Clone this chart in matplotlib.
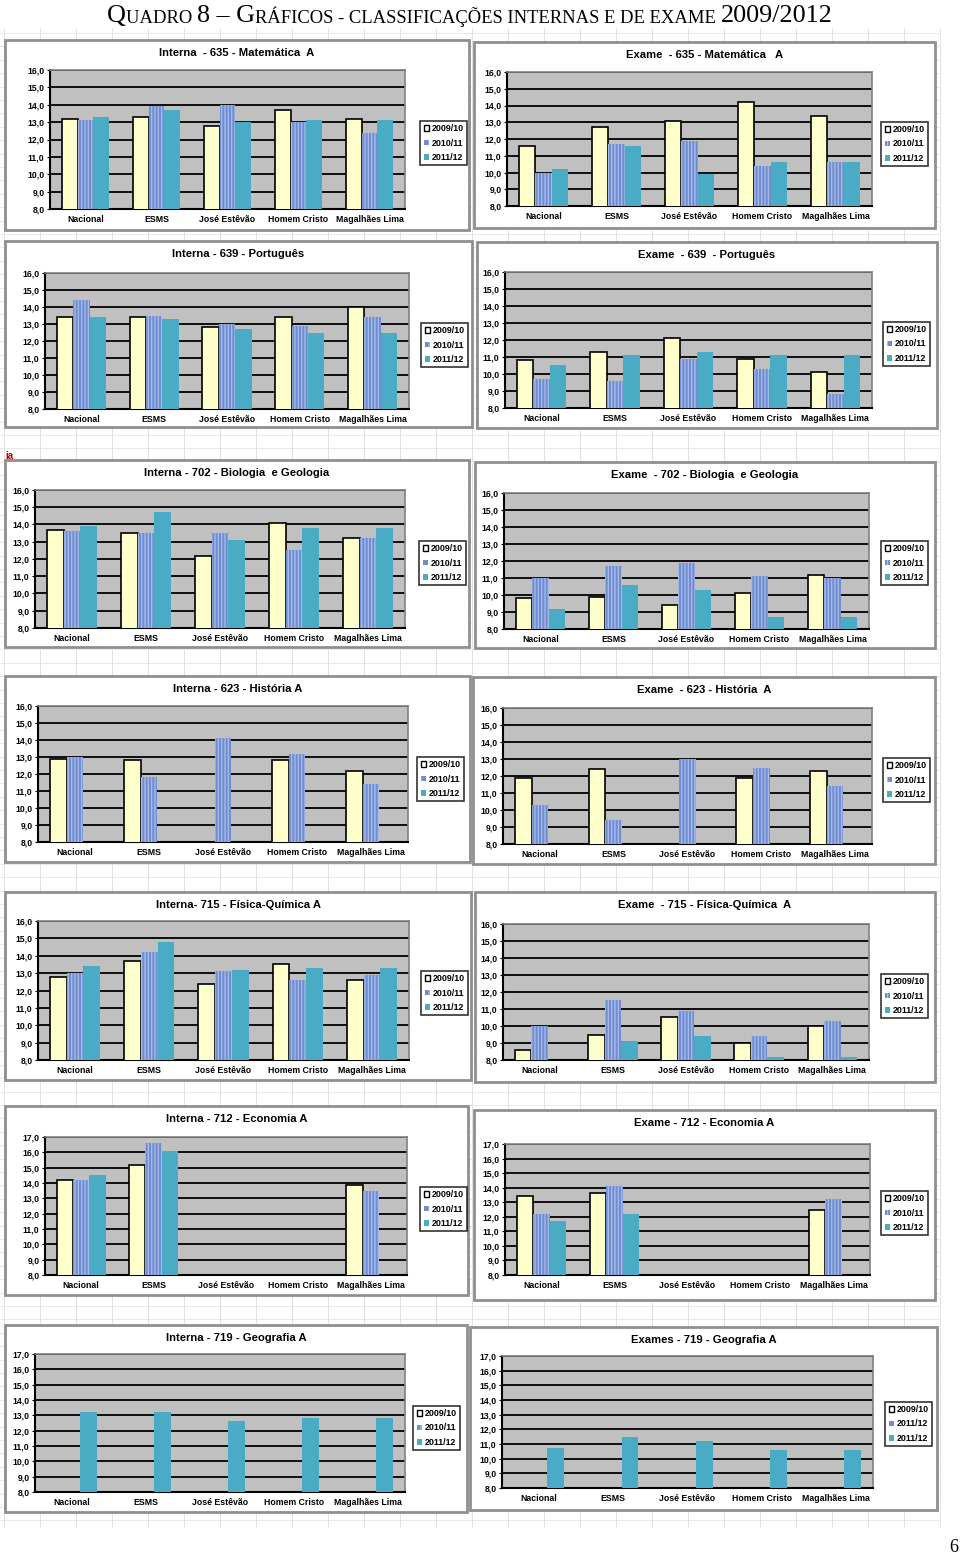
import numpy as np
import matplotlib
matplotlib.use("Agg")
import matplotlib.pyplot as plt
from matplotlib.patches import Rectangle, Patch

plt.rcParams["font.family"] = ["Liberation Sans", "DejaVu Sans"]
plt.rcParams["hatch.linewidth"] = 0.9

nan = np.nan
escolas = ["Nacional", "ESMS", "José Estêvão", "Homem Cristo", "Magalhães Lima"]
anos = ["2009/10", "2010/11", "2011/12"]

int635_0910 = [13.2, 13.3, 12.8, 13.7, 13.2]
int635_1011 = [13.1, 13.9, 14.0, 13.0, 12.4]
int635_1112 = [13.3, 13.7, 13.0, 13.1, 13.1]
exa635_0910 = [11.6, 12.7, 13.1, 14.2, 13.4]
exa635_1011 = [10.0, 11.7, 11.9, 10.4, 10.6]
exa635_1112 = [10.2, 11.6, 9.9, 10.6, 10.6]

int639_0910 = [13.4, 13.4, 12.8, 13.4, 14.0]
int639_1011 = [14.4, 13.5, 13.0, 12.9, 13.4]
int639_1112 = [13.4, 13.3, 12.7, 12.5, 12.5]
exa639_0910 = [10.8, 11.3, 12.1, 10.9, 10.1]
exa639_1011 = [9.7, 9.6, 10.9, 10.3, 8.8]
exa639_1112 = [10.5, 11.1, 11.3, 11.1, 11.1]

int702_0910 = [13.7, 13.5, 12.2, 14.1, 13.2]
int702_1011 = [13.6, 13.5, 13.5, 12.5, 13.2]
int702_1112 = [13.9, 14.7, 13.1, 13.8, 13.8]
exa702_0910 = [9.8, 9.9, 9.4, 10.1, 11.2]
exa702_1011 = [11.0, 11.7, 11.9, 11.1, 11.0]
exa702_1112 = [9.2, 10.6, 10.3, 8.7, 8.7]

int623_0910 = [12.9, 12.8, nan, 12.8, 12.2]
int623_1011 = [13.0, 11.8, 14.1, 13.2, 11.4]
int623_1112 = [nan, nan, nan, nan, nan]
exa623_0910 = [11.9, 12.4, nan, 11.9, 12.3]
exa623_1011 = [10.3, 9.4, 13.0, 12.5, 11.4]
exa623_1112 = [nan, nan, nan, nan, nan]

int715_0910 = [12.8, 13.7, 12.4, 13.5, 12.6]
int715_1011 = [13.0, 14.2, 13.1, 12.6, 12.9]
int715_1112 = [13.4, 14.8, 13.2, 13.3, 13.3]
exa715_0910 = [8.6, 9.5, 10.5, 9.0, 10.0]
exa715_1011 = [10.0, 11.5, 10.9, 9.4, 10.3]
exa715_1112 = [nan, 9.1, 9.4, 8.2, 8.2]

int712_0910 = [14.2, 15.2, nan, nan, 13.9]
int712_1011 = [14.2, 16.6, nan, nan, 13.5]
int712_1112 = [14.5, 16.1, nan, nan, nan]
exa712_0910 = [13.4, 13.6, nan, nan, 12.5]
exa712_1011 = [12.2, 14.1, nan, nan, 13.2]
exa712_1112 = [11.7, 12.2, nan, nan, nan]

int719_0910 = [nan, nan, nan, nan, nan]
int719_1011 = [nan, nan, nan, nan, nan]
int719_1112 = [13.2, 13.2, 12.6, 12.8, 12.8]
exa719_0910 = [nan, nan, nan, nan, nan]
exa719_1011 = [nan, nan, nan, nan, nan]
exa719_1112 = [10.7, 11.5, 11.2, 10.6, 10.6]

# ─── Figura ───────────────────────────────────────────────────────────────────
W, H = 960, 1554
fig = plt.figure(figsize=(W / 100, H / 100), dpi=100)
bg = fig.add_axes([0, 0, 1, 1], zorder=-10)
bg.set_xlim(0, W); bg.set_ylim(H, 0); bg.axis("off")

# grelha da folha de cálculo
for x in np.arange(4, 945, 36):
    bg.plot([x, x], [28, 1527], color="#dcdcdc", lw=0.6, zorder=0)
for y in np.arange(33, 1528, 13.4):
    bg.plot([0, 940], [y, y], color="#e4e4e4", lw=0.6, zorder=0)

# título em versaletes
big, small = 18.8, 13.4
pieces = [("Q", big), ("UADRO ", small), ("8 – G", big),
          ("RÁFICOS - CLASSIFICAÇÕES INTERNAS E DE EXAME ", small), ("2009/2012", big)]
t = bg.text(107, 22, pieces[0][0], fontsize=pieces[0][1], family="Liberation Serif",
            va="baseline", ha="left")
for txt, fs in pieces[1:]:
    t = bg.annotate(txt, xy=(1, 0), xycoords=t, va="bottom", ha="left",
                    fontsize=fs, family="Liberation Serif")

bg.text(5, 456, "ia", color="#c00000", fontsize=7, fontweight="bold", va="center")
bg.text(958, 1547, "6", fontsize=13, family="Liberation Serif", ha="right", va="center")

YELLOW, BLUE, HATCH, TEAL = "#ffffcc", "#6f8ed2", "#aabde8", "#4aabc5"


def chart(box, plot, leg, title, series, ymax=16, labels=anos):
    x0, y0, x1, y1 = box
    bg.add_patch(Rectangle((x0, y0), x1 - x0, y1 - y0, facecolor="white",
                           edgecolor="#8f8f8f", lw=2, zorder=1))
    bg.text((x0 + x1) / 2, y0 + 13, title, ha="center", va="center",
            fontsize=8.1, fontweight="bold", zorder=2)
    px0, py0, px1, py1 = plot
    ax = fig.add_axes([px0 / W, 1 - py1 / H, (px1 - px0) / W, (py1 - py0) / H])
    ax.set_facecolor("#c0c0c0")
    x = np.arange(len(escolas))
    w = 0.225
    a, b, c = series
    ax.bar(x - w, a, w, color=YELLOW, edgecolor="black", lw=1.2, zorder=3)
    ax.bar(x, b, w, color=BLUE, edgecolor=HATCH, hatch="|||||", lw=0, zorder=3)
    ax.bar(x + w, c, w, color=TEAL, lw=0, zorder=3)
    ax.set_xlim(-0.5, len(escolas) - 0.5)
    ax.set_ylim(8, ymax)
    ax.set_yticks(range(8, ymax + 1))
    ax.set_yticklabels([f"{v},0" for v in range(8, ymax + 1)])
    ax.set_xticks(x); ax.set_xticklabels(escolas)
    ax.yaxis.grid(True, color="black", lw=1.3); ax.set_axisbelow(True)
    for s in ["top", "right"]:
        ax.spines[s].set_color("#808080"); ax.spines[s].set_linewidth(1.2)
    for s in ["left", "bottom"]:
        ax.spines[s].set_color("black"); ax.spines[s].set_linewidth(1.5)
    ax.tick_params(length=2, width=0.8, labelsize=6.2, pad=2)
    ax.tick_params(axis="x", length=0, pad=4, labelsize=6.3)
    for lb in ax.get_xticklabels() + ax.get_yticklabels():
        lb.set_fontweight("bold")
    handles = [Patch(facecolor="white", edgecolor="black", lw=1.0),
               Patch(facecolor=BLUE, edgecolor=HATCH, hatch="||", lw=0),
               Patch(facecolor=TEAL, lw=0)]
    lg = ax.legend(handles, labels, loc="center left", bbox_to_anchor=leg,
                   bbox_transform=bg.transData, frameon=True, fancybox=False,
                   edgecolor="black", fontsize=6.4, handlelength=0.6,
                   handleheight=0.6, handletextpad=0.3, borderpad=0.4,
                   labelspacing=0.6, borderaxespad=0)
    lg.get_frame().set_linewidth(1.2)
    for tx in lg.get_texts():
        tx.set_fontweight("bold")
    return ax


chart((5, 40, 469, 230), (50, 70, 405, 209), (420, 143), "Interna  - 635 - Matemática  A",
      (int635_0910, int635_1011, int635_1112))
chart((474, 42, 935, 228), (507, 72, 872, 206), (881, 144), "Exame  - 635 - Matemática   A",
      (exa635_0910, exa635_1011, exa635_1112))
chart((5, 241, 472, 427), (45, 273, 409, 409), (421, 345), "Interna - 639 - Português",
      (int639_0910, int639_1011, int639_1112))
chart((477, 242, 937, 428), (505, 272, 872, 408), (883, 344), "Exame  - 639  - Português",
      (exa639_0910, exa639_1011, exa639_1112))
chart((5, 460, 469, 647), (35, 490, 405, 628), (419, 563), "Interna - 702 - Biologia  e Geologia",
      (int702_0910, int702_1011, int702_1112))
chart((475, 462, 935, 648), (504, 493, 869, 629), (881, 563), "Exame  - 702 - Biologia  e Geologia",
      (exa702_0910, exa702_1011, exa702_1112))
chart((5, 676, 470, 862), (38, 706, 408, 842), (417, 779), "Interna - 623 - História A",
      (int623_0910, int623_1011, int623_1112))
chart((473, 677, 935, 864), (503, 708, 872, 844), (883, 780), "Exame  - 623 - História  A",
      (exa623_0910, exa623_1011, exa623_1112))
chart((5, 892, 471, 1080), (38, 921, 409, 1060), (421, 993), "Interna- 715 - Física-Química A",
      (int715_0910, int715_1011, int715_1112))
chart((475, 892, 935, 1082), (503, 924, 869, 1060), (881, 996), "Exame  - 715 - Física-Química  A",
      (exa715_0910, exa715_1011, exa715_1112))
chart((5, 1106, 468, 1295), (45, 1137, 407, 1275), (420, 1209), "Interna - 712 - Economia A",
      (int712_0910, int712_1011, int712_1112), ymax=17)
chart((474, 1110, 935, 1300), (505, 1144, 870, 1275), (881, 1213), "Exame - 712 - Economia A",
      (exa712_0910, exa712_1011, exa712_1112), ymax=17)
chart((5, 1325, 467, 1512), (35, 1354, 405, 1492), (413, 1428), "Interna - 719 - Geografia A",
      (int719_0910, int719_1011, int719_1112), ymax=17)
chart((470, 1327, 937, 1510), (502, 1356, 873, 1488), (885, 1424), "Exames - 719 - Geografia A",
      (exa719_0910, exa719_1011, exa719_1112), ymax=17,
      labels=["2009/10", "2011/12", "2011/12"])

fig.savefig("out.png", dpi=100)
